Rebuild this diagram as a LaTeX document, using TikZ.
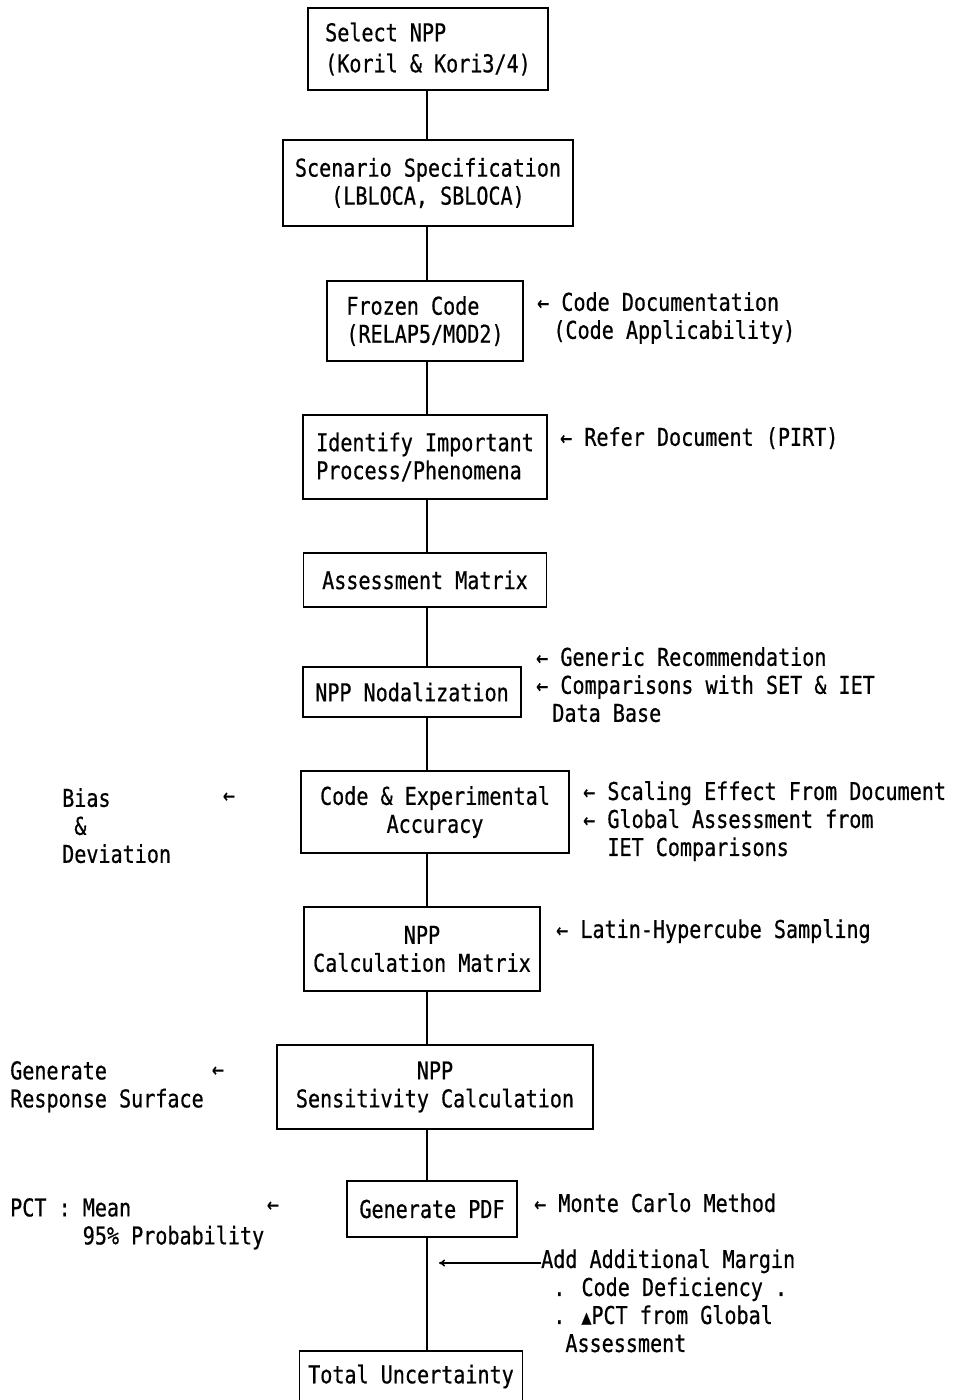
\documentclass[tikz,border=0pt]{standalone}
\usepackage{fontspec}
\setmainfont[FakeStretch=0.82,FakeBold=0.6]{DejaVu Sans Mono}
\usetikzlibrary{arrows.meta}
\newcommand\fs{\fontsize{24.5}{28}\selectfont}
\newcommand\sk[1]{\phantom{#1}}
\begin{document}
\begin{tikzpicture}[x=1pt,y=-1pt,
  box/.style={draw, line width=1.8pt, inner sep=0pt, align=center, font=\fs},
  lbox/.style={box, align=left},
  side/.style={anchor=north west, align=left, inner sep=0pt, font=\fs},
  larr/.style={anchor=center, inner sep=0pt, font=\fs},
  link/.style={line width=1.8pt}]
\useasboundingbox (0,0) rectangle (955,1400);
\fill[white] (0,0) rectangle (955,1400);

% main boxes
\node[lbox, minimum width=240, minimum height=82] (b1) at (428,49) {\raisebox{3pt}{Select NPP}\\(Koril \& Kori3/4)};
\node[box, minimum width=290, minimum height=86] (b2) at (428,183) {Scenario Specification\\(LBLOCA, SBLOCA)};
\node[lbox, minimum width=196, minimum height=80] (b3) at (425,321) {Frozen Code\\(RELAP5/MOD2)};
\node[lbox, minimum width=244, minimum height=84] (b4) at (425,457) {Identify Important\\Process/Phenomena};
\node[box, minimum width=243, minimum height=54] (b5) at (425,580) {Assessment Matrix};
\node[box, minimum width=218, minimum height=50] (b6) at (412,692) {NPP Nodalization};
\node[box, minimum width=268, minimum height=82] (b7) at (435,812) {Code \& Experimental\\Accuracy};
\node[box, minimum width=236, minimum height=84] (b8) at (422,949) {NPP\\Calculation Matrix};
\node[box, minimum width=316, minimum height=84] (b9) at (435,1087) {NPP\\Sensitivity Calculation};
\node[box, minimum width=170, minimum height=56] (b10) at (432,1209) {Generate PDF};
\node[box, minimum width=223, minimum height=70, anchor=north] (b11) at (411,1350) {\raisebox{-6pt}{Total Uncertainty}\rule[-30pt]{0pt}{1pt}};

% connectors
\coordinate (x0) at (427,0);
\draw[link] (x0 |- b1.south) -- (x0 |- b2.north);
\draw[link] (x0 |- b2.south) -- (x0 |- b3.north);
\draw[link] (x0 |- b3.south) -- (x0 |- b4.north);
\draw[link] (x0 |- b4.south) -- (x0 |- b5.north);
\draw[link] (x0 |- b5.south) -- (x0 |- b6.north);
\draw[link] (x0 |- b6.south) -- (x0 |- b7.north);
\draw[link] (x0 |- b7.south) -- (x0 |- b8.north);
\draw[link] (x0 |- b8.south) -- (x0 |- b9.north);
\draw[link] (x0 |- b9.south) -- (x0 |- b10.north);
\draw[link] (x0 |- b10.south) -- (x0 |- b11.north);

% right side notes
\node[side] (r3) at (537,292) {← Code Documentation\\\sk{X}\,(Code Applicability)};
\node[side] (r4) at (560,427) {← Refer Document (PIRT)};
\node[side] (r6) at (536,647) {← Generic Recommendation\\← Comparisons with SET \& IET\\\sk{X}\,Data Base};
\node[side] (r7) at (583,781) {← Scaling Effect From Document\\← Global Assessment from\\\sk{XX}IET Comparisons};
\node[side] (r8) at (556,919) {← Latin-Hypercube Sampling};
\node[side] (r10) at (534,1193) {← Monte Carlo Method};
\node[side] (margin) at (541,1249) {Add Additional Margin\\\sk{X}. Code Deficiency .\\\sk{X}. {\fontsize{20}{20}\selectfont▲}PCT from Global\\\sk{XX}Assessment};
\coordinate (mtip) at (439,1263);
\draw[line width=1.6pt, -{To[length=6pt,width=7pt]}] (margin.west |- mtip) -- (mtip);

% left side notes
\node[side] (l7) at (62,788) {Bias\\\sk{X}\&\\Deviation};
\node[larr] (a7) at (229,798) {←};
\node[side] (l9) at (10,1061) {Generate\\Response Surface};
\node[larr] (a9) at (218,1072) {←};
\node[side] (l10) at (10,1198) {PCT : Mean\\\sk{PCT : }95\% Probability};
\node[larr] (a10) at (273,1207) {←};
\end{tikzpicture}
\end{document}
